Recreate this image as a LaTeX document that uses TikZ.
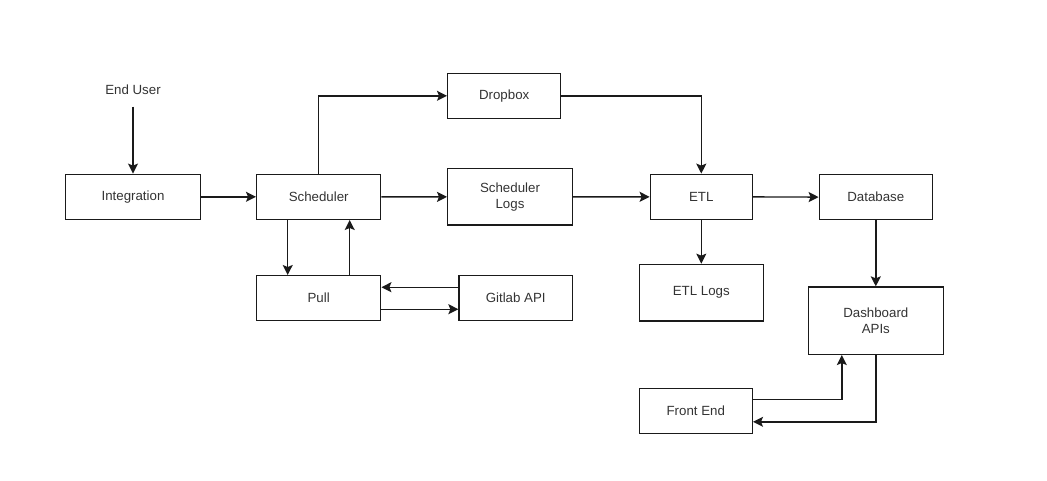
\documentclass[tikz,border=0pt]{standalone}
\usepackage{fontspec}
\setmainfont{Liberation Sans}
\usetikzlibrary{arrows.meta}
\definecolor{txt}{HTML}{333333}
\definecolor{ln}{HTML}{1A1A1A}
\begin{document}
\begin{tikzpicture}[x=1pt,y=-1pt,
  box/.style={draw=ln, line width=1.4pt, rectangle, inner sep=0pt, align=center, text=txt, font=\fontsize{13.3}{15.8}\selectfont},
  lbl/.style={inner sep=0pt, minimum height=34pt, text=txt, font=\fontsize{13.3}{15.8}\selectfont},
  arr/.style={draw=ln, line width=1.4pt, -{Stealth[length=10pt,width=10pt,inset=2pt]}}]
\useasboundingbox (0,0) rectangle (1047,480);
\node[lbl] (eu) at (133,89.5) {End User};
\node[box, minimum width=135pt, minimum height=45pt] (int) at (133,196.8) {Integration};
\node[box, minimum width=124pt, minimum height=45pt] (sch) at (318.7,196.8) {Scheduler};
\node[box, minimum width=113pt, minimum height=45pt] (drop) at (504.2,95.8) {Dropbox};
\node[box, minimum width=124.6pt, minimum height=56.3pt] (slog) at (510,196.9) {Scheduler\\Logs};
\node[box, minimum width=102pt, minimum height=45pt] (etl) at (701.3,196.8) {ETL};
\node[box, minimum width=113pt, minimum height=45pt] (db) at (875.8,197.2) {Database};
\node[box, minimum width=124pt, minimum height=45pt] (pull) at (318.7,298.2) {Pull};
\node[box, minimum width=113.3pt, minimum height=45pt] (git) at (515.7,298.2) {Gitlab API};
\node[box, minimum width=124pt, minimum height=56.7pt] (etll) at (701.3,292.7) {ETL Logs};
\node[box, minimum width=135pt, minimum height=67.3pt] (dash) at (875.8,320.7) {Dashboard\\APIs};
\node[box, minimum width=113pt, minimum height=45pt] (fe) at (695.8,410.8) {Front End};
\draw[arr] (eu.south) -- (int.north);
\draw[arr] (int) -- (sch);
\draw[arr] (sch.north) |- (drop.west);
\draw[arr] (sch) -- (slog);
\draw[arr] ([xshift=-31pt]sch.south) -- ([xshift=-31pt]pull.north);
\draw[arr] ([xshift=31pt]pull.north) -- ([xshift=31pt]sch.south);
\draw[arr] ([yshift=11pt]git.west) -- ([yshift=11pt]pull.east);
\draw[arr] ([yshift=-11pt]pull.east) -- ([yshift=-11pt]git.west);
\draw[arr] (drop.east) -| (etl.north);
\draw[arr] (slog) -- (etl);
\draw[arr] (etl) -- (db);
\draw[arr] (etl.south) -- (etll.north);
\draw[arr] (db.south) -- (dash.north);
\draw[arr] ([yshift=11.5pt]fe.east) -| ([xshift=-34pt]dash.south);
\draw[arr] (dash.south) |- ([yshift=-11pt]fe.east);
\end{tikzpicture}
\end{document}
